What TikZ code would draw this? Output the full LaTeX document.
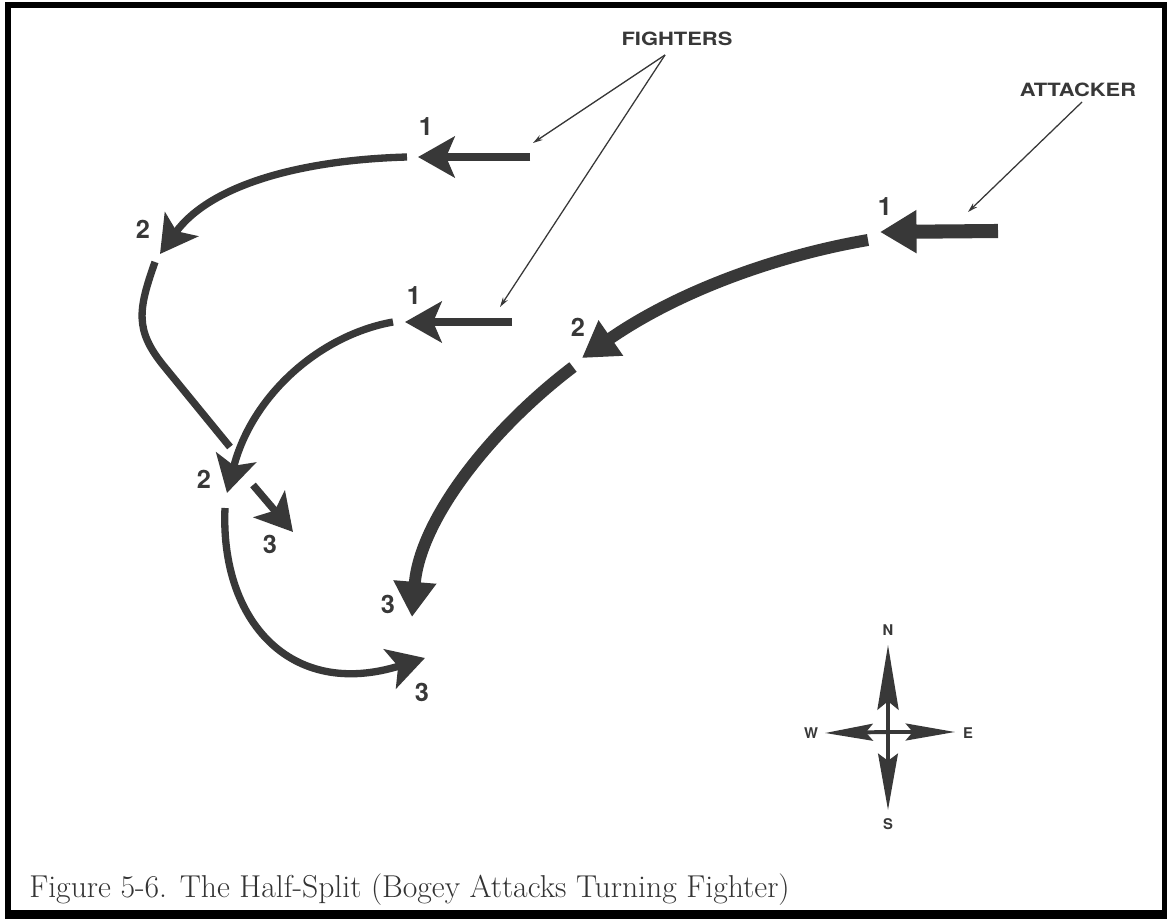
\documentclass[tikz,border=0pt]{standalone}
\usepackage{fontspec}
\usepackage{tikz}
\usetikzlibrary{arrows.meta}
\newfontfamily\lblfont[FakeStretch=1.2]{TeX Gyre Heros}
\newfontfamily\numfont{TeX Gyre Heros}
\definecolor{ink}{rgb}{0.22,0.22,0.22}
\definecolor{capink}{rgb}{0.2,0.2,0.2}
\tikzset{
  fighter/.style={draw=ink,line width=5.2pt,-{Stealth[length=26pt,width=29pt,inset=6pt]}},
  fightleg/.style={draw=ink,line width=5.2pt},
  bogey/.style={draw=ink,line width=8.5pt,-{Triangle[length=25pt,width=29pt]}},
  bogeyshaft/.style={draw=ink,line width=10pt,-{Triangle[length=26pt,width=29pt]}},
  leader/.style={draw=ink,line width=0.9pt,-{Stealth[length=7pt,width=4pt]}},
  compass/.style={draw=ink,line width=2.8pt},
  num/.style={text=ink,font=\numfont\bfseries\fontsize{18}{18}\selectfont,inner sep=0pt},
  tag/.style={text=ink,font=\lblfont\bfseries\fontsize{13}{13}\selectfont,inner sep=0pt},
  pole/.style={text=ink,font=\numfont\bfseries\fontsize{10.5}{10.5}\selectfont,inner sep=0pt}
}
\begin{document}
\begin{tikzpicture}[line join=round,x=0.025cm,y=-0.025cm]
\useasboundingbox (0,0) rectangle (1167,919);
\fill[black] (5,2) rectangle (1167,919);
\fill[white] (11,8) rectangle (1162,910);
\node[tag] (fighters) at (677,39) {FIGHTERS};
\node[tag] (attacker) at (1078,90) {ATTACKER};
\coordinate (fsrc) at (665,55);
\coordinate (asrc) at (1082,102);
\coordinate (ua0) at (530,157);
\coordinate (ua1) at (418,157);
\coordinate (ub0) at (407,157);
\coordinate (ub1) at (160,254);
\coordinate (uc0) at (155,262);
\coordinate (uc1) at (163,365);
\coordinate (uc2) at (230,447);
\coordinate (la0) at (512,322);
\coordinate (la1) at (405,322);
\coordinate (lb0) at (393,322);
\coordinate (lb1) at (227,493);
\coordinate (lc0) at (253,485);
\coordinate (lc1) at (293,532);
\coordinate (ld0) at (225,508);
\coordinate (ld1) at (425,658);
\coordinate (ba0) at (998,231);
\coordinate (ba1) at (880,232);
\coordinate (bb0) at (868,240);
\coordinate (bb1) at (582,358);
\coordinate (bc0) at (573,367);
\coordinate (bc1) at (412,617);
\coordinate (fpt1) at (533,143);
\coordinate (fpt2) at (500,307);
\coordinate (apt) at (968,212);
\draw[leader] (fsrc) -- (fpt1);
\draw[leader] (fsrc) -- (fpt2);
\draw[leader] (asrc) -- (apt);
\draw[fighter] (ua0) -- (ua1);
\draw[fighter] (ub0) .. controls (300,160) and (210,185) .. (ub1);
\draw[fightleg] (uc0) .. controls (138,310) and (135,330) .. (uc1) -- (uc2);
\draw[fighter] (la0) -- (la1);
\draw[fighter] (lb0) .. controls (320,335) and (252,395) .. (lb1);
\draw[fighter] (lc0) -- (lc1);
\draw[fighter] (ld0) .. controls (220,620) and (290,700) .. (ld1);
\draw[bogeyshaft] (ba0) -- (ba1);
\draw[bogey] (bb0) .. controls (780,255) and (680,290) .. (bb1);
\draw[bogey] (bc0) .. controls (490,430) and (420,520) .. (bc1);
\node[num] (u1) at (426,127) {1};
\node[num] (u2) at (143,229) {2};
\node[num] (l1) at (414,296) {1};
\node[num] (l2) at (204,479) {2};
\node[num] (l3a) at (270,544) {3};
\node[num] (l3b) at (422,692) {3};
\node[num] (b1) at (885,207) {1};
\node[num] (b2) at (578,327) {2};
\node[num] (b3) at (388,604) {3};
\coordinate (cc) at (888,732);
\coordinate (cn) at (888,645);
\coordinate (cs) at (888,810);
\coordinate (cw) at (825,733);
\coordinate (ce) at (955,732);
\draw[compass,-{Stealth[length=46pt,width=15pt,inset=6pt]}] (cc) -- (cn);
\draw[compass,-{Stealth[length=40pt,width=14pt,inset=5pt]}] (cc) -- (cs);
\draw[compass,-{Stealth[length=34pt,width=12pt,inset=5pt]}] (cc) -- (cw);
\draw[compass,-{Stealth[length=35pt,width=12pt,inset=5pt]}] (cc) -- (ce);
\node[pole] (north) at (888,630) {N};
\node[pole] (south) at (888,824) {S};
\node[pole] (west) at (811,733) {W};
\node[pole] (east) at (968,733) {E};
\node[anchor=base west,inner sep=0pt,text=capink] (caption) at (29,897) {\fontsize{22.5}{22.5}\selectfont Figure 5-6. The Half-Split (Bogey Attacks Turning Fighter)};
\end{tikzpicture}
\end{document}
